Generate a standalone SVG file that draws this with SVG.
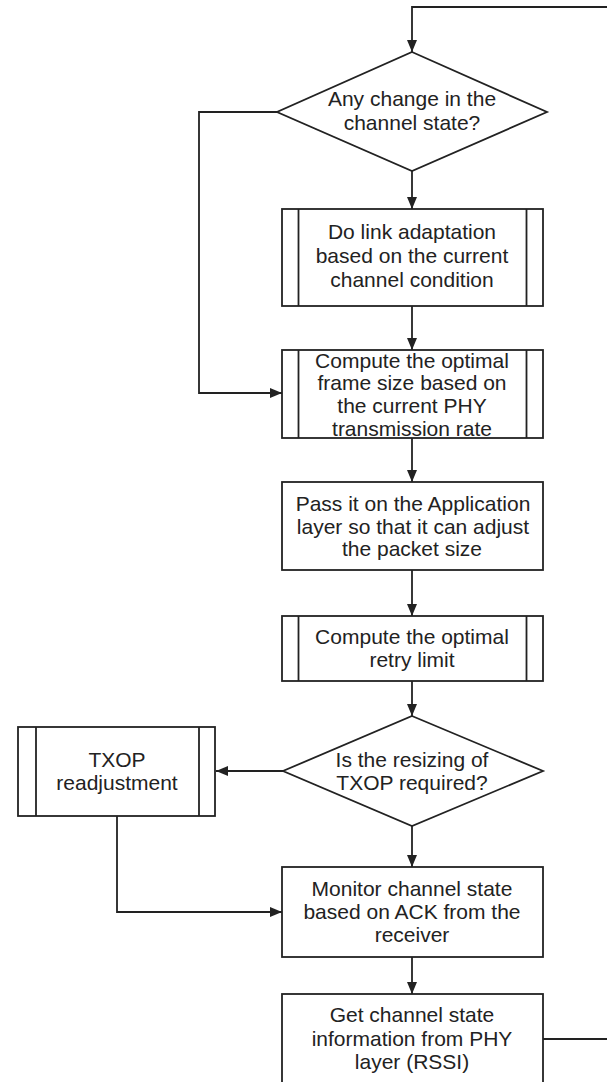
<svg xmlns="http://www.w3.org/2000/svg" width="607" height="1082" viewBox="0 0 607 1082">
<defs>
<style>
.s{fill:#fff;stroke:#222;stroke-width:1.8}
.l{fill:none;stroke:#222;stroke-width:1.8}
.c{fill:none;stroke:#222;stroke-width:1.8;marker-end:url(#ah)}
text{font-family:"Liberation Sans",Arial,sans-serif;font-size:21px;fill:#222;text-anchor:middle}
</style>
<marker id="ah" markerUnits="userSpaceOnUse" markerWidth="12" markerHeight="10" refX="12" refY="5" orient="auto">
<path d="M0,0 L12,5 L0,10 z" fill="#222"/>
</marker>
</defs>
<rect width="607" height="1082" fill="#fff"/>
<g id="connectors">
<polyline class="c" points="543,1039 612,1039 612,7 412,7 412,52"/>
<line class="c" x1="412" y1="171" x2="412" y2="209"/>
<polyline class="c" points="277,112 199,112 199,393 282,393"/>
<line class="c" x1="412" y1="306" x2="412" y2="350"/>
<line class="c" x1="412" y1="438" x2="412" y2="482"/>
<line class="c" x1="412" y1="570" x2="412" y2="616"/>
<line class="c" x1="412" y1="681" x2="412" y2="716"/>
<line class="c" x1="283" y1="771" x2="216" y2="771"/>
<line class="c" x1="412" y1="826" x2="412" y2="867"/>
<polyline class="c" points="117,816 117,912 282,912"/>
<line class="c" x1="412" y1="957" x2="412" y2="994"/>
</g>
<g id="d1">
<polygon class="s" points="412,52 547,112 412,171 277,112"/>
<text x="412" y="106">Any change in the</text>
<text x="412" y="130">channel state?</text>
</g>
<g id="b1">
<rect class="s" x="282" y="209" width="261" height="97"/>
<line class="l" x1="298.5" y1="209" x2="298.5" y2="306"/>
<line class="l" x1="526.5" y1="209" x2="526.5" y2="306"/>
<text x="412" y="239">Do link adaptation</text>
<text x="412" y="263">based on the current</text>
<text x="412" y="287">channel condition</text>
</g>
<g id="b2">
<rect class="s" x="282" y="350" width="261" height="88"/>
<line class="l" x1="298.5" y1="350" x2="298.5" y2="438"/>
<line class="l" x1="526.5" y1="350" x2="526.5" y2="438"/>
<text x="412" y="368">Compute the optimal</text>
<text x="412" y="390">frame size based on</text>
<text x="412" y="413">the current PHY</text>
<text x="412" y="436">transmission rate</text>
</g>
<g id="b3">
<rect class="s" x="282" y="482" width="261" height="88"/>
<text x="413" y="511">Pass it on the Application</text>
<text x="413" y="534">layer so that it can adjust</text>
<text x="412" y="556">the packet size</text>
</g>
<g id="b4">
<rect class="s" x="282" y="616" width="261" height="65"/>
<line class="l" x1="298.5" y1="616" x2="298.5" y2="681"/>
<line class="l" x1="526.5" y1="616" x2="526.5" y2="681"/>
<text x="412" y="644">Compute the optimal</text>
<text x="412" y="667">retry limit</text>
</g>
<g id="d2">
<polygon class="s" points="412,716 543,771 412,826 283,771"/>
<text x="412" y="767">Is the resizing of</text>
<text x="412" y="790">TXOP required?</text>
</g>
<g id="txop">
<rect class="s" x="18" y="727" width="197" height="89"/>
<line class="l" x1="36" y1="727" x2="36" y2="816"/>
<line class="l" x1="199" y1="727" x2="199" y2="816"/>
<text x="117" y="767">TXOP</text>
<text x="117" y="790">readjustment</text>
</g>
<g id="b5">
<rect class="s" x="282" y="867" width="261" height="90"/>
<text x="412" y="896">Monitor channel state</text>
<text x="412" y="919">based on ACK from the</text>
<text x="412" y="942">receiver</text>
</g>
<g id="b6">
<rect class="s" x="282" y="994" width="261" height="100"/>
<text x="412" y="1022">Get channel state</text>
<text x="412" y="1046">information from PHY</text>
<text x="412" y="1069">layer (RSSI)</text>
</g>
</svg>
